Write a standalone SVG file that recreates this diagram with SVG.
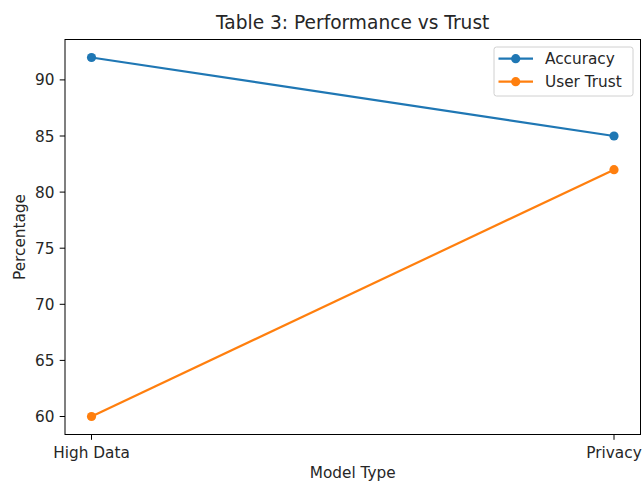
<svg xmlns="http://www.w3.org/2000/svg" width="643" height="482" viewBox="0 0 643 482">
<style>
text{font-family:"DejaVu Sans","Liberation Sans",sans-serif;fill:#262626;font-size:15.3px}
.tick{stroke:#000;stroke-width:1}
.yl{text-anchor:end}
.xl{text-anchor:middle}
.acc{stroke:#1f77b4;stroke-width:2.2;fill:none}
.ut{stroke:#ff7f0e;stroke-width:2.2;fill:none}
.accm{fill:#1f77b4}
.utm{fill:#ff7f0e}
</style>
<rect width="643" height="482" fill="#fff"/>
<text x="352.7" y="29" text-anchor="middle" style="font-size:18.6px">Table 3: Performance vs Trust</text>
<g id="axes">
<rect x="65" y="39.5" width="575.5" height="395" fill="none" stroke="#000" stroke-width="1"/>
<g id="yticks">
<line class="tick" x1="59.7" y1="416.5" x2="65" y2="416.5"/><text class="yl" x="54.5" y="422">60</text>
<line class="tick" x1="59.7" y1="360.4" x2="65" y2="360.4"/><text class="yl" x="54.5" y="365.9">65</text>
<line class="tick" x1="59.7" y1="304.3" x2="65" y2="304.3"/><text class="yl" x="54.5" y="309.8">70</text>
<line class="tick" x1="59.7" y1="248.2" x2="65" y2="248.2"/><text class="yl" x="54.5" y="253.7">75</text>
<line class="tick" x1="59.7" y1="192.1" x2="65" y2="192.1"/><text class="yl" x="54.5" y="197.6">80</text>
<line class="tick" x1="59.7" y1="136" x2="65" y2="136"/><text class="yl" x="54.5" y="141.5">85</text>
<line class="tick" x1="59.7" y1="79.9" x2="65" y2="79.9"/><text class="yl" x="54.5" y="85.4">90</text>
</g>
<g id="xticks">
<line class="tick" x1="91.5" y1="434.5" x2="91.5" y2="439.8"/><text class="xl" x="91.5" y="457.5">High Data</text>
<line class="tick" x1="614" y1="434.5" x2="614" y2="439.8"/><text class="xl" x="614" y="457.5">Privacy</text>
</g>
<text x="352.7" y="477.5" text-anchor="middle">Model Type</text>
<text transform="translate(25,237) rotate(-90)" text-anchor="middle">Percentage</text>
</g>
<g id="connectors">
<polyline class="acc" points="91.5,57.5 614,136"/>
<polyline class="ut" points="91.5,416.5 614,169.7"/>
</g>
<g id="series-accuracy">
<circle class="accm" cx="91.5" cy="57.5" r="4.6"/>
<circle class="accm" cx="614" cy="136" r="4.6"/>
</g>
<g id="series-usertrust">
<circle class="utm" cx="91.5" cy="416.5" r="4.6"/>
<circle class="utm" cx="614" cy="169.7" r="4.6"/>
</g>
<g id="legend">
<rect x="494" y="47" width="139" height="49" rx="2.5" fill="#fff" fill-opacity="0.8" stroke="#d0d0d0" stroke-width="1"/>
<line class="acc" x1="498.5" y1="58.7" x2="533" y2="58.7"/>
<circle class="accm" cx="515.7" cy="58.7" r="4.6"/>
<text x="545" y="64">Accuracy</text>
<line class="ut" x1="498.5" y1="81.7" x2="533" y2="81.7"/>
<circle class="utm" cx="515.7" cy="81.7" r="4.6"/>
<text x="545" y="87">User Trust</text>
</g>
</svg>
